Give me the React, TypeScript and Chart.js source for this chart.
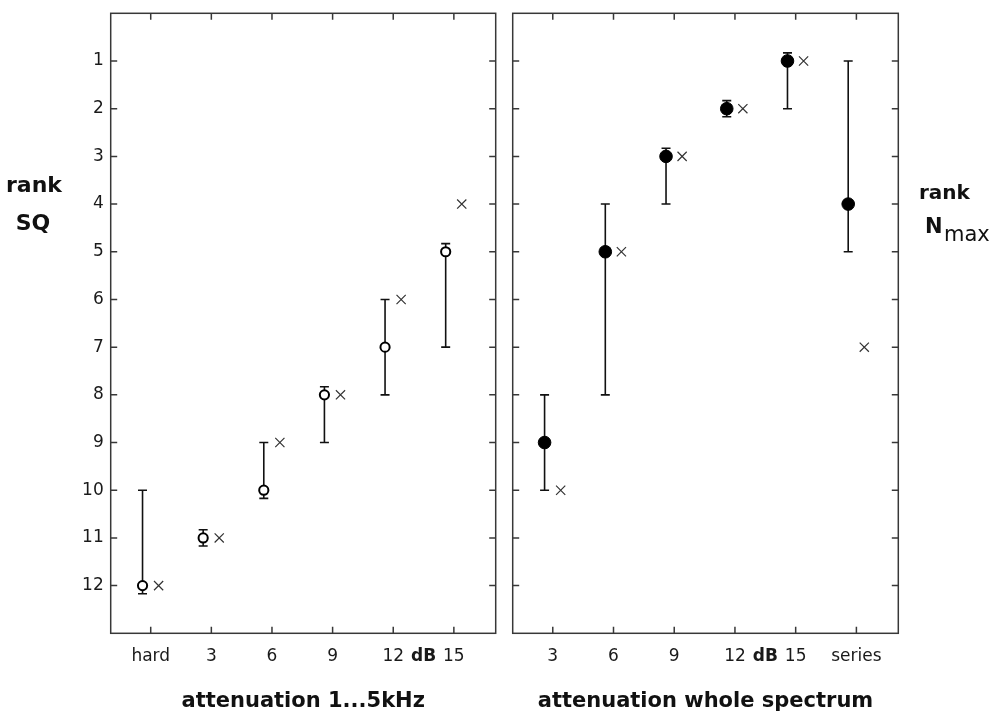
import React, { useEffect, useRef } from "react";
import { Chart, registerables } from "chart.js";

Chart.register(...registerables);

// ---------- data ----------
const leftCategories = ["hard", "3", "6", "9", "12", "15"];
const leftMedian = [12, 11, 10, 8, 7, 5];
const leftWhiskerTop = [10, 10.83, 9, 7.83, 6, 4.83];
const leftWhiskerBottom = [12.17, 11.17, 10.17, 9, 8, 7];
const leftCross = [12, 11, 9, 8, 6, 4];

const rightCategories = ["3", "6", "9", "12", "15", "series"];
const rightMedian = [9, 5, 3, 2, 1, 4];
const rightWhiskerTop = [8, 4, 2.83, 1.83, 0.83, 1];
const rightWhiskerBottom = [10, 8, 4, 2.17, 2, 5];
const rightCross = [10, 5, 3, 2, 1, 7];

const rankTicks = [1, 2, 3, 4, 5, 6, 7, 8, 9, 10, 11, 12];
const unitLabel = "dB";
// "dB" sits between the "12" and "15" ticks of each panel
const leftUnitBetween = ["12", "15"];
const rightUnitBetween = ["12", "15"];

const leftTitle = "attenuation 1...5kHz";
const rightTitle = "attenuation whole spectrum";

// ---------- styling ----------
const FONT = "'DejaVu Sans', 'Liberation Sans', sans-serif";
const INK = "#1a1a1a";
const FRAME = "#383838";

const framePlugin = {
  id: "frame",
  beforeDatasetsDraw(chart: any) {
    const { ctx, chartArea: a, scales } = chart;
    ctx.save();
    ctx.strokeStyle = FRAME;
    ctx.lineWidth = 1.5;
    ctx.strokeRect(a.left, a.top, a.right - a.left, a.bottom - a.top);
    const tl = 6.5;
    ctx.beginPath();
    scales.x.ticks.forEach((t: any) => {
      const px = scales.x.getPixelForValue(t.value);
      ctx.moveTo(px, a.top);
      ctx.lineTo(px, a.top + tl);
      ctx.moveTo(px, a.bottom);
      ctx.lineTo(px, a.bottom - tl);
    });
    scales.y.ticks.forEach((t: any) => {
      const py = scales.y.getPixelForValue(t.value);
      ctx.moveTo(a.left, py);
      ctx.lineTo(a.left + tl, py);
      ctx.moveTo(a.right, py);
      ctx.lineTo(a.right - tl, py);
    });
    ctx.stroke();
    ctx.restore();
  },
};

const errorBarPlugin = {
  id: "errorBars",
  beforeDatasetsDraw(chart: any, _args: any, opts: any) {
    const { ctx, scales } = chart;
    const tops: number[] = opts.tops;
    const bottoms: number[] = opts.bottoms;
    const xs: number[] = opts.xs;
    ctx.save();
    ctx.strokeStyle = "#111";
    ctx.lineWidth = 1.6;
    const cap = 4.5;
    ctx.beginPath();
    xs.forEach((xv, i) => {
      const px = scales.x.getPixelForValue(xv);
      const y1 = scales.y.getPixelForValue(tops[i]);
      const y2 = scales.y.getPixelForValue(bottoms[i]);
      ctx.moveTo(px, y1);
      ctx.lineTo(px, y2);
      ctx.moveTo(px - cap, y1);
      ctx.lineTo(px + cap, y1);
      ctx.moveTo(px - cap, y2);
      ctx.lineTo(px + cap, y2);
    });
    ctx.stroke();
    ctx.restore();
  },
};

const unitPlugin = {
  id: "unitLabel",
  afterDraw(chart: any, _args: any, opts: any) {
    const { ctx, scales } = chart;
    const items = scales.x.getLabelItems();
    if (!items.length) return;
    const it = items[0];
    const o = it.options;
    const cats: string[] = opts.categories;
    const between: string[] = opts.between;
    const i1 = cats.indexOf(between[0]);
    const i2 = cats.indexOf(between[1]);
    const px = (scales.x.getPixelForValue(i1) + scales.x.getPixelForValue(i2)) / 2;
    ctx.save();
    ctx.font = `bold 17px ${FONT}`;
    ctx.fillStyle = INK;
    ctx.textAlign = "center";
    ctx.textBaseline = o.textBaseline || "top";
    ctx.fillText(unitLabel, px, o.translation[1] + (it.textOffset || 0));
    ctx.restore();
  },
};

type PanelCfg = {
  categories: string[];
  median: number[];
  top: number[];
  bottom: number[];
  cross: number[];
  filled: boolean;
  title: string;
  yWidth: number;
  padRight: number;
  showYLabels: boolean;
  unitBetween: string[];
};

function makeChart(canvas: HTMLCanvasElement, c: PanelCfg) {
  const medX = c.median.map((_, i) => i - 0.135);
  const crossX = c.cross.map((_, i) => i + 0.13);
  return new Chart(canvas, {
    type: "scatter",
    data: {
      datasets: [
        {
          label: "median",
          data: c.median.map((v, i) => ({ x: medX[i], y: v })),
          pointStyle: "circle",
          pointRadius: c.filled ? 6.3 : 4.6,
          pointBackgroundColor: c.filled ? "#000" : "#fff",
          pointBorderColor: "#000",
          pointBorderWidth: c.filled ? 1 : 2,
        },
        {
          label: "cross",
          data: c.cross.map((v, i) => ({ x: crossX[i], y: v })),
          pointStyle: "crossRot",
          pointRadius: 6.5,
          pointBorderColor: "#333",
          pointBorderWidth: 1.2,
        },
      ],
    },
    options: {
      animation: false,
      responsive: false,
      maintainAspectRatio: false,
      events: [],
      layout: { padding: { top: 13.3, right: c.padRight, left: 0, bottom: 0 } },
      plugins: {
        legend: { display: false },
        tooltip: { enabled: false },
        errorBars: { tops: c.top, bottoms: c.bottom, xs: medX },
        unitLabel: { categories: c.categories, between: c.unitBetween },
      } as any,
      scales: {
        x: {
          type: "linear",
          min: -0.66,
          max: 5.69,
          afterBuildTicks: (s: any) => {
            s.ticks = c.categories.map((_, i) => ({ value: i }));
          },
          ticks: {
            callback: (v: any) => c.categories[v as number],
            font: { family: FONT, size: 17 },
            color: INK,
            padding: 13,
            autoSkip: false,
            maxRotation: 0,
            minRotation: 0,
          },
          grid: { display: false, drawTicks: false },
          border: { display: false },
          title: {
            display: true,
            text: c.title,
            font: { family: FONT, size: 21, weight: "bold" },
            color: "#111",
            padding: 0,
          },
          afterFit: (s: any) => {
            s.height = 80.7;
            s.paddingLeft = 0;
            s.paddingRight = 0;
          },
        },
        y: {
          type: "linear",
          min: 0,
          max: 13,
          reverse: true,
          afterBuildTicks: (s: any) => {
            s.ticks = rankTicks.map((v) => ({ value: v }));
          },
          ticks: {
            display: c.showYLabels,
            font: { family: FONT, size: 17 },
            color: INK,
            padding: 7,
          },
          grid: { display: false, drawTicks: false },
          border: { display: false },
          afterFit: (s: any) => {
            s.width = c.yWidth;
            s.paddingTop = 0;
            s.paddingBottom = 0;
          },
        },
      },
    },
    plugins: [framePlugin, errorBarPlugin, unitPlugin],
  } as any);
}

export default function App() {
  const leftRef = useRef<HTMLCanvasElement>(null);
  const rightRef = useRef<HTMLCanvasElement>(null);

  useEffect(() => {
    const l = makeChart(leftRef.current!, {
      categories: leftCategories,
      median: leftMedian,
      top: leftWhiskerTop,
      bottom: leftWhiskerBottom,
      cross: leftCross,
      filled: false,
      title: leftTitle,
      yWidth: 110.7,
      padRight: 9.3,
      showYLabels: true,
      unitBetween: leftUnitBetween,
    });
    const r = makeChart(rightRef.current!, {
      categories: rightCategories,
      median: rightMedian,
      top: rightWhiskerTop,
      bottom: rightWhiskerBottom,
      cross: rightCross,
      filled: true,
      title: rightTitle,
      yWidth: 5.7,
      padRight: 96.7,
      showYLabels: false,
      unitBetween: rightUnitBetween,
    });
    return () => {
      l.destroy();
      r.destroy();
    };
  }, []);

  const labelBase: React.CSSProperties = {
    position: "absolute",
    fontFamily: FONT,
    color: "#111",
    whiteSpace: "nowrap",
  };

  return (
    <div
      style={{
        position: "absolute",
        left: 0,
        top: 0,
        width: 995,
        height: 714,
        background: "#fff",
        overflow: "hidden",
      }}
    >
      <canvas
        ref={leftRef}
        width={505}
        height={714}
        style={{ position: "absolute", left: 0, top: 0, width: 505, height: 714 }}
      />
      <canvas
        ref={rightRef}
        width={490}
        height={714}
        style={{ position: "absolute", left: 505, top: 0, width: 490, height: 714 }}
      />
      <div style={{ ...labelBase, left: 0, width: 68, textAlign: "center", top: 174.4, fontSize: 22, lineHeight: "22px", fontWeight: "bold" }}>
        rank
      </div>
      <div style={{ ...labelBase, left: 0, width: 66, textAlign: "center", top: 212.4, fontSize: 22, lineHeight: "22px", fontWeight: "bold" }}>
        SQ
      </div>
      <div style={{ ...labelBase, left: 919, top: 181.6, fontSize: 20, lineHeight: "20px", fontWeight: "bold" }}>
        rank
      </div>
      <div style={{ ...labelBase, left: 925, top: 216.2, fontSize: 21, lineHeight: "21px", fontWeight: "bold" }}>
        N
      </div>
      <div style={{ ...labelBase, left: 944, top: 224, fontSize: 21, lineHeight: "21px" }}>
        max
      </div>
    </div>
  );
}
